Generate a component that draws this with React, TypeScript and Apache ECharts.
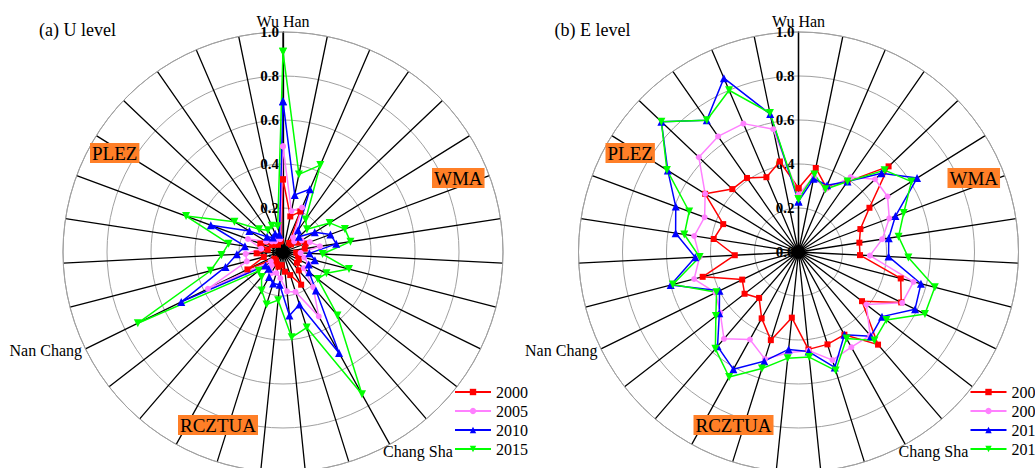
import React, { useEffect, useRef } from 'react';
import * as echarts from 'echarts';

// 31 cities, clockwise from the top (index 0 = Wu Han, 13 = Chang Sha, 21 = Nan Chang)
const N = 31;
const years = ['2000', '2005', '2010', '2015'];
const radialTicks = [0, 0.2, 0.4, 0.6, 0.8, 1.0];

// (a) U level
const u2000 = [0.33, 0.165, 0.2, 0.05, 0.05, 0.08, 0.11, 0.1, 0.06, 0.07, 0.08, 0.08, 0.11, 0.17, 0.11, 0.09, 0.06, 0.07, 0.06, 0.05, 0.05, 0.18, 0.09, 0.12, 0.07, 0.11, 0.06, 0.05, 0.04, 0.05, 0.05];
const u2005 = [0.48, 0.19, 0.22, 0.08, 0.07, 0.1, 0.13, 0.17, 0.08, 0.1, 0.13, 0.12, 0.21, 0.335, 0.19, 0.18, 0.12, 0.1, 0.11, 0.08, 0.07, 0.38, 0.17, 0.17, 0.1, 0.17, 0.09, 0.07, 0.06, 0.07, 0.06];
const u2010 = [0.685, 0.265, 0.31, 0.12, 0.1, 0.17, 0.23, 0.245, 0.12, 0.15, 0.13, 0.15, 0.23, 0.525, 0.25, 0.29, 0.15, 0.15, 0.13, 0.1, 0.1, 0.515, 0.27, 0.21, 0.175, 0.35, 0.18, 0.1, 0.08, 0.09, 0.08];
const u2015 = [0.91, 0.36, 0.43, 0.18, 0.15, 0.25, 0.3, 0.31, 0.18, 0.31, 0.22, 0.2, 0.38, 0.74, 0.36, 0.39, 0.22, 0.25, 0.2, 0.15, 0.14, 0.735, 0.34, 0.28, 0.25, 0.47, 0.26, 0.15, 0.12, 0.13, 0.12];

// (b) E level
const e2000 = [0.29, 0.39, 0.32, 0.39, 0.565, 0.38, 0.3, 0.28, 0.28, 0.48, 0.52, 0.365, 0.555, 0.43, 0.44, 0.445, 0.3, 0.42, 0.345, 0.275, 0.31, 0.285, 0.45, 0.29, 0.39, 0.365, 0.5, 0.415, 0.41, 0.37, 0.42];
const e2005 = [0.26, 0.35, 0.31, 0.415, 0.48, 0.477, 0.44, 0.385, 0.325, 0.54, 0.525, 0.39, 0.5, 0.495, 0.515, 0.45, 0.46, 0.51, 0.455, 0.52, 0.45, 0.42, 0.49, 0.45, 0.48, 0.455, 0.5, 0.625, 0.64, 0.635, 0.57];
const e2010 = [0.23, 0.34, 0.33, 0.39, 0.52, 0.635, 0.47, 0.415, 0.41, 0.575, 0.59, 0.48, 0.505, 0.43, 0.55, 0.455, 0.445, 0.52, 0.61, 0.565, 0.455, 0.4, 0.6, 0.47, 0.565, 0.595, 0.7, 0.86, 0.73, 0.86, 0.64];
const e2015 = [0.24, 0.36, 0.31, 0.39, 0.54, 0.605, 0.51, 0.46, 0.5, 0.64, 0.64, 0.505, 0.53, 0.45, 0.565, 0.48, 0.485, 0.555, 0.65, 0.58, 0.475, 0.415, 0.59, 0.45, 0.525, 0.53, 0.705, 0.86, 0.73, 0.8, 0.645];

const panelTitles = ['(a) U level', '(b) E level'];
const panelData = [
  [u2000, u2005, u2010, u2015],
  [e2000, e2005, e2010, e2015],
];
const cityLabels = ['Wu Han', 'Nan Chang', 'Chang Sha'];
const zoneLabels = ['PLEZ', 'WMA', 'RCZTUA'];

const colors = ['#ff0000', '#ff80ff', '#0000ff', '#00ff00'];
const symbols = ['rect', 'circle', 'triangle', 'triangle'];
const symbolRotates = [0, 0, 0, 180];
const symbolSizes = [6, 6, 8, 8];

const FONT = '"Liberation Serif", "Times New Roman", serif';

export default function App() {
  const ref = useRef<HTMLDivElement>(null);

  useEffect(() => {
    const el = ref.current;
    if (!el) return;
    const chart = echarts.init(el, null, { renderer: 'svg' });

    const CY = 252;
    const R = 220;
    const centers = [283, 798.5];

    const polar = centers.map((cx) => ({ center: [cx, CY], radius: R }));

    const angleAxis = centers.map((_, k) => ({
      polarIndex: k,
      type: 'value',
      min: 0,
      max: N,
      interval: 1,
      startAngle: 90,
      clockwise: true,
      axisLine: { show: true, lineStyle: { color: '#a0a0a0', width: 1 } },
      axisTick: { show: false },
      axisLabel: { show: false },
      splitLine: { show: true, lineStyle: { color: '#000', width: 1.3 } },
      splitArea: { show: false },
    }));

    const radiusAxis = centers.map((_, k) => ({
      polarIndex: k,
      type: 'value',
      min: radialTicks[0],
      max: radialTicks[radialTicks.length - 1],
      interval: 0.2,
      axisLine: { show: true, lineStyle: { color: '#000', width: 1.3 } },
      axisTick: { show: false },
      axisLabel: {
        show: true,
        formatter: (v: number) => v.toFixed(1),
        fontFamily: FONT,
        fontWeight: 'bold',
        fontSize: 15,
        color: '#000',
        margin: 4,
      },
      splitLine: { show: true, lineStyle: { color: '#a0a0a0', width: 1 } },
      splitArea: { show: false },
    }));

    const series: any[] = [];
    panelData.forEach((sets, k) => {
      sets.forEach((vals, j) => {
        const pts = vals.map((v, i) => [v, i]);
        pts.push([vals[0], N]);
        series.push({
          type: 'line',
          name: years[j],
          coordinateSystem: 'polar',
          polarIndex: k,
          data: pts,
          symbol: symbols[j],
          symbolSize: symbolSizes[j],
          symbolRotate: symbolRotates[j],
          showAllSymbol: true,
          lineStyle: { color: colors[j], width: 1.5 },
          itemStyle: { color: colors[j] },
          z: 3,
        });
      });
    });

    const legend = centers.map((cx) => ({
      orient: 'vertical',
      left: cx + 171,
      top: 384,
      padding: 0,
      itemWidth: 36,
      itemHeight: 8,
      itemGap: 3,
      data: years,
      symbolRotate: 'inherit',
      textStyle: { fontFamily: FONT, fontSize: 16, color: '#000' },
    }));

    // label offsets relative to each panel centre
    const cityPos = [
      { dx: 0, dy: -231, align: 'center' },
      { dx: -201, dy: 98, align: 'right' },
      { dx: 100, dy: 199, align: 'left' },
    ];
    const zonePos = [
      { dx: -193, dy: -109 },
      { dx: 149, dy: -84 },
      { dx: -105, dy: 163 },
    ];

    const graphic: any[] = [];
    centers.forEach((cx, k) => {
      graphic.push({
        type: 'text',
        left: cx - 244,
        top: 21,
        style: { text: panelTitles[k], font: `18px ${FONT}`, fill: '#000' },
      });
      cityLabels.forEach((name, m) => {
        const p = cityPos[m];
        graphic.push({
          type: 'text',
          x: cx + p.dx,
          y: CY + p.dy,
          z: 10,
          style: {
            text: name,
            font: `16px ${FONT}`,
            fill: '#000',
            textAlign: p.align,
            textVerticalAlign: 'middle',
          },
        });
      });
      zoneLabels.forEach((name, m) => {
        const p = zonePos[m];
        graphic.push({
          type: 'text',
          x: cx + p.dx,
          y: CY + p.dy,
          z: 10,
          style: {
            text: name,
            font: `19px ${FONT}`,
            fill: '#000',
            backgroundColor: '#ff7f27',
            padding: [1, 2, 0, 2],
            textAlign: 'left',
            textVerticalAlign: 'top',
          },
        });
      });
    });

    chart.setOption({
      animation: false,
      backgroundColor: '#fff',
      polar,
      angleAxis,
      radiusAxis,
      legend,
      series,
      graphic,
    });

    return () => chart.dispose();
  }, []);

  return (
    <div
      ref={ref}
      style={{ position: 'absolute', left: 0, top: 0, width: 1035, height: 468 }}
    />
  );
}
